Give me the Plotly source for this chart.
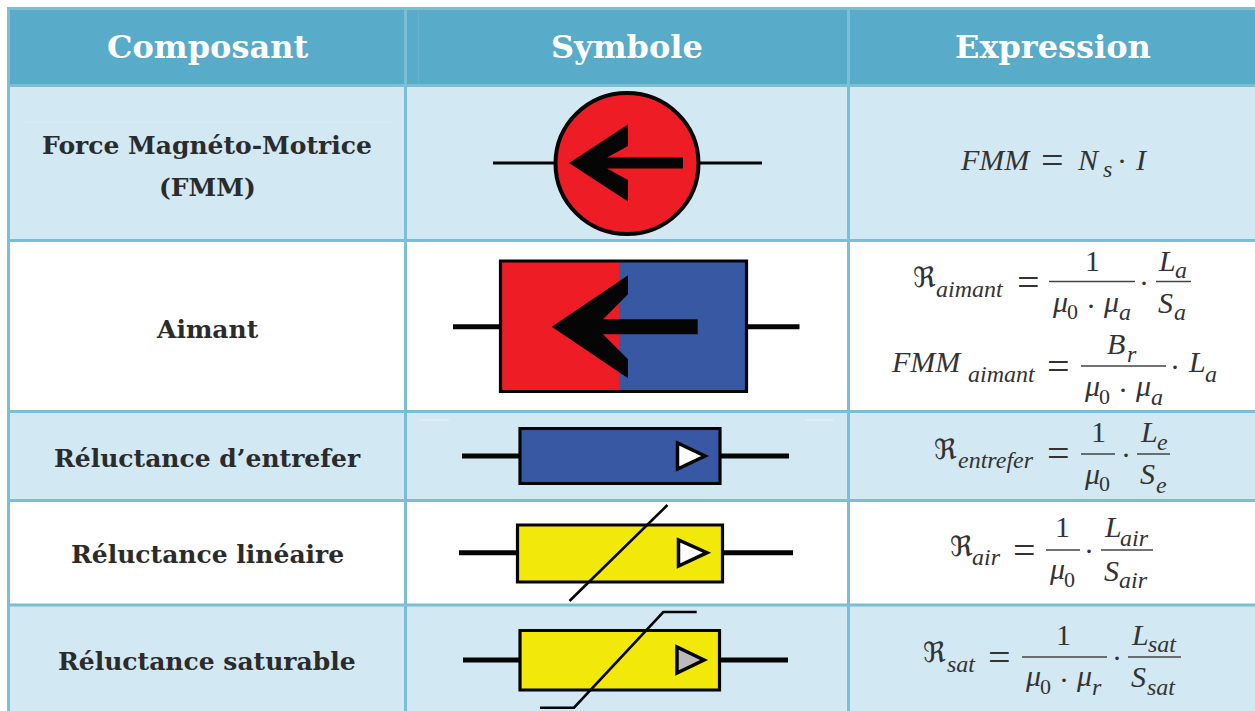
import plotly.graph_objects as go

# ---------- content ----------
HEADERS = ["Composant", "Symbole", "Expression"]
COMPONENTS = [["Force Magnéto-Motrice", "(FMM)"], ["Aimant"], ["Réluctance d’entrefer"],
              ["Réluctance linéaire"], ["Réluctance saturable"]]

# ---------- palette ----------
HEAD = "#58ABC9"; RULE = "#7BBED6"; LIGHT = "#D2E8F2"; RED = "#EE1C25"; BLUE = "#3858A4"
YEL = "#F2E90B"; INK = "#2B2B2B"; MATH = "#333333"; BLK = "#050505"

SERIF = "Liberation Serif"; BOLD = "DejaVu Serif"; FRAK = "DejaVu Sans"
shapes, notes = [], []

def rect(x0, y0, x1, y1, fill, line=None, w=0):
    shapes.append(dict(type="rect", x0=x0, y0=y0, x1=x1, y1=y1, fillcolor=fill,
                       line=dict(color=line or fill, width=w)))

def path(pts, fill=None, line=BLK, w=0, close=True):
    d = "M" + "L".join(f"{x},{y}" for x, y in pts) + ("Z" if close else "")
    shapes.append(dict(type="path", path=d, fillcolor=fill or "rgba(0,0,0,0)",
                       line=dict(color=line, width=w)))

def seg(x0, y0, x1, y1, w=3, color=BLK):
    shapes.append(dict(type="line", x0=x0, y0=y0, x1=x1, y1=y1, line=dict(color=color, width=w)))

def txt(s, x, base, size, italic=False, family=SERIF, anchor="left", color=MATH, weight="normal", k=0.38):
    notes.append(dict(text=s, x=x, y=base - k * size, xanchor=anchor, yanchor="middle",
                      showarrow=False, borderpad=0, borderwidth=0,
                      font=dict(family=family, size=size, color=color, weight=weight,
                                style="italic" if italic else "normal")))

# ---------- table ----------
ROWS = [(87, 240, LIGHT), (240, 412, "#FFFFFF"), (412, 501, LIGHT), (501, 605, "#FFFFFF"), (605, 711, LIGHT)]
rect(7, 7, 1255, 87, HEAD)
for y0, y1, c in ROWS:
    rect(8, y0, 1255, y1, c)
seg(22, 122, 392, 122, 1, "#DCEDF5")
seg(420, 420, 449, 420, 1, "#E6F2F8"); seg(805, 420, 834, 420, 1, "#E6F2F8")
seg(418.5, 9, 418.5, 85, 1, "#66B2CE")
for y in (8.5, 85.5, 240.5, 411.5, 500.5, 605):
    seg(7, y, 1255, y, 3, RULE)
for x in (8.5, 405.5, 848.5):
    seg(x, 7, x, 711, 3, RULE)

# ---------- header + labels ----------
for s, x in zip(HEADERS, (207, 627, 1053)):
    txt(s, x, 59, 32, family=BOLD, anchor="center", color="#FFFFFF", weight="bold")
txt(COMPONENTS[0][0], 207, 155, 25, family=BOLD, anchor="center", color=INK, weight="bold")
txt(COMPONENTS[0][1], 207, 197, 25, family=BOLD, anchor="center", color=INK, weight="bold")
for lab, x, b in zip(COMPONENTS[1:], (207, 207, 207, 207), (339, 468, 564, 671)):
    txt(lab[0], x, b, 25, family=BOLD, anchor="center", color=INK, weight="bold")

# ---------- symbols ----------
def arrow(tip, yc, head, notch, end, half, top, inner):
    path([(tip, yc), (head, yc - top), (head, yc - inner), (notch, yc - half), (end, yc - half),
          (end, yc + half), (notch, yc + half), (head, yc + inner), (head, yc + top)], fill=BLK, w=0)

# FMM source
seg(493, 163, 556, 163, 3); seg(698, 163, 762, 163, 3)
shapes.append(dict(type="circle", x0=555.5, y0=93, x1=698.5, y1=234, fillcolor=RED,
                   line=dict(color=BLK, width=4)))
arrow(569, 163, 628, 607, 683, 5.5, 38.5, 17)

# magnet
seg(453, 326.7, 500, 326.7, 5); seg(747, 326.7, 799.5, 326.7, 5)
rect(500.5, 261, 619, 391.5, RED); rect(619, 261, 746.5, 391.5, BLUE)
rect(500.5, 261, 746.5, 391.5, "rgba(0,0,0,0)", BLK, 3.2)
arrow(551.7, 326.7, 628, 603, 697.7, 7.5, 51.5, 32.5)

def resistor(x0, x1, y0, y1, yc, lx0, lx1, fill, tri_fill, tx, ty0, ty1, tip):
    seg(lx0, yc, x0, yc, 5); seg(x1, yc, lx1, yc, 5)
    rect(x0, y0, x1, y1, fill, BLK, 3.2)
    path([(tx, ty0), (tx, ty1), (tip, yc)], fill=tri_fill, w=3.5)

resistor(520, 720, 428.5, 483.5, 456, 462, 789, BLUE, "#FFFFFF", 677.5, 443, 469, 705)
resistor(517.5, 722.5, 525, 582, 552.7, 459, 793, YEL, "#FFFFFF", 678.5, 540, 566, 707)
seg(569.5, 601, 667.5, 505, 2.6)
resistor(520, 719.5, 630.5, 690, 660, 463, 788, YEL, "#BBBBBB", 677, 647, 673, 704)
path([(540, 707.7), (574, 707.7), (663.3, 612), (696.7, 612)], w=2.6, close=False)

# ---------- expressions ----------
M, S, F, Z = 30, 24, 28, 22
def bar(x0, x1, y): seg(x0, y, x1, y, 1.4, "#444444")
def eq(x, y): txt("=", x, y, 40, anchor="center", k=0)
def dot(x, y): txt("·", x, y, 30, anchor="center", k=0)
def R(x, b): txt("ℜ", x, b, F, family=FRAK)
def it(s, x, b, size=M): txt(s, x, b, size, italic=True)
def sub(s, x, b, size=S): txt(s, x, b + 1.5, size, italic=True)
def zero(x, b): txt("0", x, b, Z)
def one(x, b): txt("1", x, b, M, anchor="center")

# FMM = Ns . I
it("FMM", 960, 171); eq(1052, 160); it("N", 1077, 171); sub("s", 1103, 177); dot(1122, 160); it("I", 1135, 171)

# R_aimant
R(913, 288); sub("aimant", 936, 297); eq(1028, 282); bar(1049, 1135, 281.5); one(1092, 272)
it("μ", 1052, 313); zero(1067, 320); dot(1091, 305); it("μ", 1103, 313); sub("a", 1119, 320)
dot(1144, 282); bar(1156, 1191, 281.5); it("L", 1158, 272); sub("a", 1175, 278); it("S", 1158, 314); sub("a", 1174, 320)

# FMM_aimant
it("FMM", 891, 373); sub("aimant", 968, 382); eq(1058, 366); bar(1081, 1166, 366)
it("B", 1107, 355); sub("r", 1127, 362); it("μ", 1084, 397); zero(1099, 405); dot(1123, 389)
it("μ", 1135, 397); sub("a", 1151, 405); dot(1175, 366); it("L", 1188, 373); sub("a", 1205, 382)

# R_entrefer
R(934, 460); sub("entrefer", 958, 468); eq(1058, 453); bar(1081, 1115, 454); one(1098, 443)
it("μ", 1084, 485); zero(1099, 492); dot(1126, 454); bar(1137, 1170, 454)
it("L", 1140, 443); sub("e", 1157, 450); it("S", 1140, 485); sub("e", 1156, 493)

# R_air
R(950, 557); sub("air", 972, 565); eq(1024, 550); bar(1046, 1080, 550); one(1062, 538)
it("μ", 1049, 580); zero(1064, 588); dot(1089, 550); bar(1101, 1153, 550)
it("L", 1104, 538); sub("air", 1120, 546); it("S", 1104, 582); sub("air", 1119, 588)

# R_sat
R(923, 663); sub("sat", 947, 672); eq(999, 657); bar(1022, 1107, 657); one(1063, 646)
it("μ", 1025, 687); zero(1040, 695); dot(1064, 679); it("μ", 1076, 687); sub("r", 1092, 695)
dot(1117, 657); bar(1128, 1181, 657); it("L", 1131, 646); sub("sat", 1148, 652); it("S", 1131, 688); sub("sat", 1147, 695)

fig = go.Figure()
fig.update_layout(width=1255, height=711, margin=dict(l=0, r=0, t=0, b=0), showlegend=False,
                  paper_bgcolor="#FFFFFF", plot_bgcolor="#FFFFFF", shapes=shapes, annotations=notes,
                  xaxis=dict(range=[0, 1255], visible=False, fixedrange=True),
                  yaxis=dict(range=[711, 0], visible=False, fixedrange=True))
fig.write_html("out.html", config=dict(displayModeBar=False),
               post_script="document.body.style.margin='0';document.body.style.overflow='hidden';")
